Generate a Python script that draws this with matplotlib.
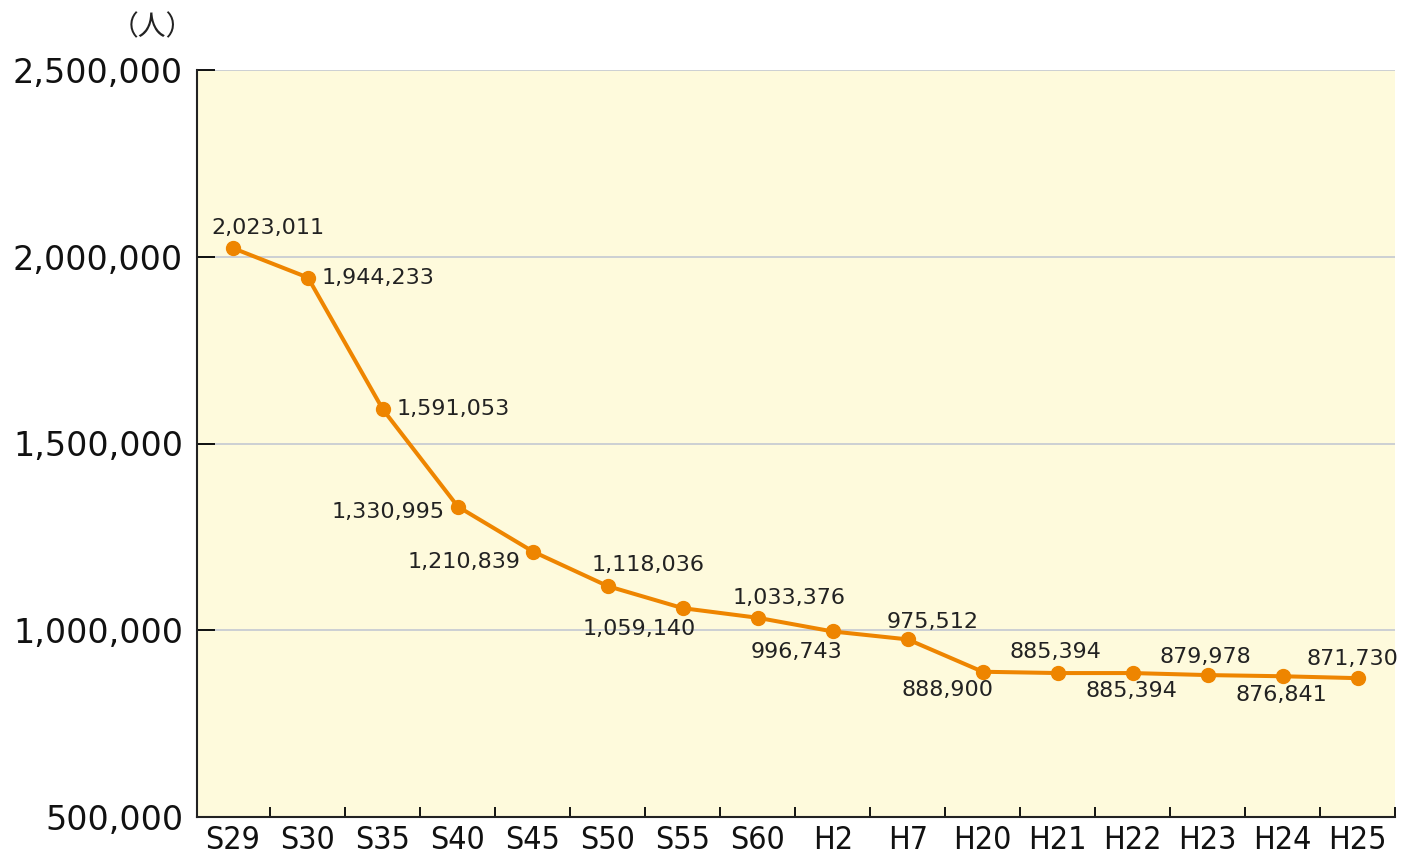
import matplotlib
matplotlib.use("Agg")
import matplotlib.pyplot as plt
from matplotlib.ticker import FixedLocator, FuncFormatter

plt.rcParams['font.family'] = ['DejaVu Sans', 'Noto Sans CJK JP']

# Population by year
years = ["S29", "S30", "S35", "S40", "S45", "S50", "S55", "S60",
         "H2", "H7", "H20", "H21", "H22", "H23", "H24", "H25"]
population = [2023011, 1944233, 1591053, 1330995, 1210839, 1118036, 1059140,
              1033376, 996743, 975512, 888900, 885394, 885394, 879978,
              876841, 871730]
yticks = [500000, 1000000, 1500000, 2000000, 2500000]

# label placement (dx, dy in pixels, ha)
label_pos = [(35, 20, 'center'), (14, 0, 'left'), (14, 0, 'left'),
             (-13, -5, 'right'), (-12, -10, 'right'), (40, 21, 'center'),
             (-44, -21, 'center'), (31, 20, 'center'), (-36, -21, 'center'),
             (25, 17, 'center'), (-35, -18, 'center'), (-2, 21, 'center'),
             (-1, -18, 'center'), (-2, 18, 'center'), (-1, -19, 'center'),
             (-5, 19, 'center')]

fig = plt.figure(figsize=(14.18, 8.59), dpi=100)
ax = fig.add_axes([197 / 1418, 1 - 817 / 859, 1198 / 1418, 747 / 859])
ax.set_facecolor('#FEFADC')

x = list(range(len(years)))
ax.plot(x, population, color='#EE8500', lw=2.9, marker='o', ms=10,
        zorder=3, solid_joinstyle='round')

for xi, v, (dx, dy, ha) in zip(x, population, label_pos):
    ax.annotate(f"{v:,}", (xi, v), xytext=(dx, dy), textcoords='offset pixels',
                ha=ha, va='center', fontsize=16, color='#222222', zorder=4)

ax.set_xlim(-0.48, 15.5)
ax.set_ylim(500000, 2500000)

ax.set_yticks(yticks)
ax.yaxis.set_major_formatter(FuncFormatter(lambda v, p: f"{int(v):,}"))
ax.grid(axis='y', color='#C4C8D2', lw=1.2, zorder=1)
ax.set_axisbelow(True)
ax.tick_params(axis='y', direction='in', length=13, width=1.3, pad=10,
               labelsize=24, labelcolor='#111111')

ax.set_xticks(x)
ax.set_xticklabels(years)
ax.xaxis.set_minor_locator(FixedLocator([i + 0.5 for i in x]))
ax.tick_params(axis='x', which='major', length=0, pad=6, labelsize=23,
               labelcolor='#111111')
ax.tick_params(axis='x', which='minor', direction='in', length=7, width=1.3)
for lab in ax.get_xticklabels():
    lab.set_fontstretch('condensed')

for s in ('top', 'right'):
    ax.spines[s].set_visible(False)
for s in ('left', 'bottom'):
    ax.spines[s].set_linewidth(1.5)
    ax.spines[s].set_color('#222222')

fig.text(152 / 1418, 1 - 27 / 859, "（人）", ha='center', va='center',
         fontsize=20, color='#222222', family=['Noto Sans CJK JP'])

fig.savefig("out.png", dpi=100)
